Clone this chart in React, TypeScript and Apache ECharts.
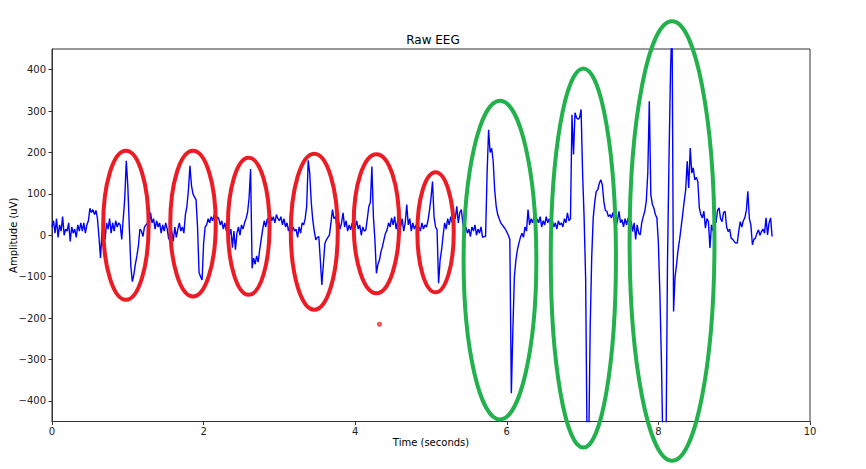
import React, { useEffect, useRef } from "react";
import * as echarts from "echarts";

// Raw EEG samples (one value every 0.02 s, 0.00 s .. 9.50 s)
const sampleStep = 0.02;
const eegValues: number[] = [
  20, 35, 5, 40, -5, 25, 10, 45, 0, 15,
  10, 30, -15, 20, 5, 15, -5, 25, 10, 30,
  10, 30, 5, 25, 35, 65, 55, 62, 50, 60,
  40, -5, -55, 10, 25, -10, 30, 15, 40, 5,
  30, 10, 35, 20, 30, 25, -10, 40, 90, 180,
  120, 20, -75, -112, -95, -70, -50, -25, 15, 10,
  -3, 20, 25, 30, 20, 55, 30, 40, 15, 35,
  20, 30, 5, 25, 10, 30, 15, -10, 20, 10,
  -15, 20, -5, 15, 30, 10, 20, 5, 50, 70,
  110, 168, 120, 100, 92, 86, 20, -90, -100, -108,
  -20, 20, 25, 40, 30, 45, 35, 50, 30, 45,
  40, 25, 35, 15, 30, 10, 20, 0, 15, -30,
  10, -35, 5, 20, 0, 25, 15, 30, 40, 55,
  90, 160, -80, -55, -70, -50, -65, -35, -10, 15,
  35, 20, 40, 25, 50, 35, 45, 30, 50, 40,
  35, 45, 25, 40, 20, 30, 10, 25, 5, 20,
  10, 15, -5, 20, 5, 30, 25, 40, 70, 181,
  150, 80, 37, 10, -11, -5, -3, -60, -120, -70,
  -20, -11, -5, 1, 30, 62, 40, 45, 20, 35,
  15, 30, 54, 20, 35, 10, 25, 13, 30, 5,
  20, 35, 15, 25, 0, 20, 10, 13, 40, 70,
  79, 166, 45, -11, -92, -70, -60, -40, -27, -10,
  5, 13, 30, 20, 42, 25, 45, 15, 35, 50,
  20, 40, 10, 30, 74, 25, 40, 10, 30, 15,
  25, 5, 20, 10, 30, 15, 25, 20, 35, 60,
  90, 130, 45, 20, 13, -116, -60, -35, 0, 30,
  15, 40, 25, 45, 30, 50, 40, 70, 30, 55,
  62, 30, 5, 20, 5, 15, -3, 20, 10, 25,
  0, 15, 5, 20, -5, -3, -3, 150, 255, 200,
  210, 180, 110, 70, 50, 40, 30, 25, 20, 15,
  8, 0, -10, -382, -229, -100, -60, -35, -19, -5,
  5, -5, 20, 10, 62, 25, 40, 30, 45, 20,
  40, 30, 45, 20, 35, 25, 45, 30, 40, 25,
  35, 20, 30, 15, 35, 25, 30, 20, 40, 30,
  54, 35, 40, 291, 195, 296, 284, 280, 284, 304,
  150, 42, -104, -520, -520, -224, -55, 42, 80, 106,
  110, 125, 134, 122, 82, 60, 58, 45, 50, 42,
  55, 30, 21, 35, 58, 30, 38, 20, 40, 25,
  42, 15, 35, 9, 30, -10, 25, 5, 1, 30,
  45, 58, 82, 150, 324, 98, 75, 66, 50, 42,
  -20, -144, -305, -520, -520, -520, -63, 187, 396, 520,
  -184, -100, -70, -35, -10, 20, 50, 82, 110, 179,
  114, 211, 150, 163, 134, 140, 130, 66, 50, 42,
  58, 17, 40, 33, -31, 25, 10, 50, 30, 60,
  66, 40, 33, 55, 58, 20, 9, 15, -7, -10,
  -15, -19, -19, 10, 33, 20, 35, 42, 60, 106,
  40, 25, -23, -10, -7, 5, 13, 0, 9, 15,
  5, 42, 1, 30, 42, -3,
];

// Annotation ellipses: [centre time, centre amplitude, half-width (s), half-height (uV)]
const redEllipses: number[][] = [
  [0.975, 24, 0.3, 180],
  [1.86, 28, 0.3, 176],
  [2.595, 21.5, 0.275, 165.5],
  [3.46, 8.5, 0.31, 188.5],
  [4.28, 28, 0.3, 168],
  [5.06, 7, 0.24, 145],
];
const greenEllipses: number[][] = [
  [5.91, -60, 0.48, 385],
  [7.01, -55, 0.43, 458],
  [8.18, -14, 0.56, 531],
];
const markerPoints: number[][] = [[4.32, -215]];

const xTicks = [0, 2, 4, 6, 8, 10];
const yTicks = [-400, -300, -200, -100, 0, 100, 200, 300, 400];

const FONT = "DejaVu Sans";

function ellipseSeries(data: number[][], color: string) {
  return {
    type: "custom",
    data,
    clip: false,
    z: 5,
    encode: { x: 0, y: 1 },
    renderItem: (params: any, api: any) => {
      const c = api.coord([api.value(0), api.value(1)]);
      const s = api.size([api.value(2), api.value(3)], [api.value(0), api.value(1)]);
      return {
        type: "ellipse",
        shape: { cx: c[0], cy: c[1], rx: s[0], ry: s[1] },
        style: { fill: "none", stroke: color, lineWidth: 4 },
      };
    },
  };
}

export default function App() {
  const ref = useRef<HTMLDivElement>(null);
  useEffect(() => {
    if (!ref.current) return;
    const chart = echarts.init(ref.current, null, { renderer: "svg" });
    const minus = (v: number) => String(v).replace("-", "\u2212");
    chart.setOption({
      animation: false,
      backgroundColor: "#ffffff",
      title: {
        text: "Raw EEG",
        left: "center",
        top: 29,
        textStyle: { fontFamily: FONT, fontSize: 12, fontWeight: "normal", color: "#000" },
      },
      grid: {
        left: 52,
        right: 56,
        top: 49,
        bottom: 47.5,
        outerBoundsMode: "none",
        containLabel: false,
        show: true,
        borderColor: "#333",
        borderWidth: 1,
        backgroundColor: "transparent",
      },
      xAxis: {
        type: "value",
        min: 0,
        max: 10,
        interval: 2,
        name: "Time (seconds)",
        nameLocation: "middle",
        nameGap: 16,
        nameMoveOverlap: false,
        nameTextStyle: { fontFamily: FONT, fontSize: 10, color: "#000" },
        axisLine: { show: true, onZero: false, lineStyle: { color: "#333", width: 1 } },
        axisTick: { show: true, inside: false, length: 3.5, lineStyle: { color: "#333" }, customValues: xTicks },
        axisLabel: { fontFamily: FONT, fontSize: 10, color: "#222", margin: 5, customValues: xTicks, formatter: minus },
        splitLine: { show: false },
      },
      yAxis: {
        type: "value",
        min: -450,
        max: 450,
        name: "Amplitude (uV)",
        nameLocation: "middle",
        nameGap: 34,
        nameMoveOverlap: false,
        nameTextStyle: { fontFamily: FONT, fontSize: 10, color: "#000" },
        axisLine: { show: true, onZero: false, lineStyle: { color: "#333", width: 1 } },
        axisTick: { show: true, inside: false, length: 3.5, lineStyle: { color: "#333" }, customValues: yTicks },
        axisLabel: { fontFamily: FONT, fontSize: 10, color: "#222", margin: 6, customValues: yTicks, formatter: minus },
        splitLine: { show: false },
      },
      series: [
        {
          type: "line",
          data: eegValues.map((v, i) => [i * sampleStep, v]),
          showSymbol: false,
          clip: true,
          lineStyle: { color: "#0000ff", width: 1.4 },
          z: 2,
        },
        ellipseSeries(redEllipses, "#ed1c24"),
        ellipseSeries(greenEllipses, "#22b14c"),
        {
          type: "scatter",
          data: markerPoints,
          symbol: "emptyCircle",
          symbolSize: 3,
          itemStyle: { color: "#ed1c24", borderColor: "#ed1c24", borderWidth: 1 },
          z: 6,
        },
      ],
    });
    return () => chart.dispose();
  }, []);
  return (
    <div
      ref={ref}
      style={{ position: "fixed", left: 0, top: 0, width: 866, height: 469 }}
    />
  );
}
